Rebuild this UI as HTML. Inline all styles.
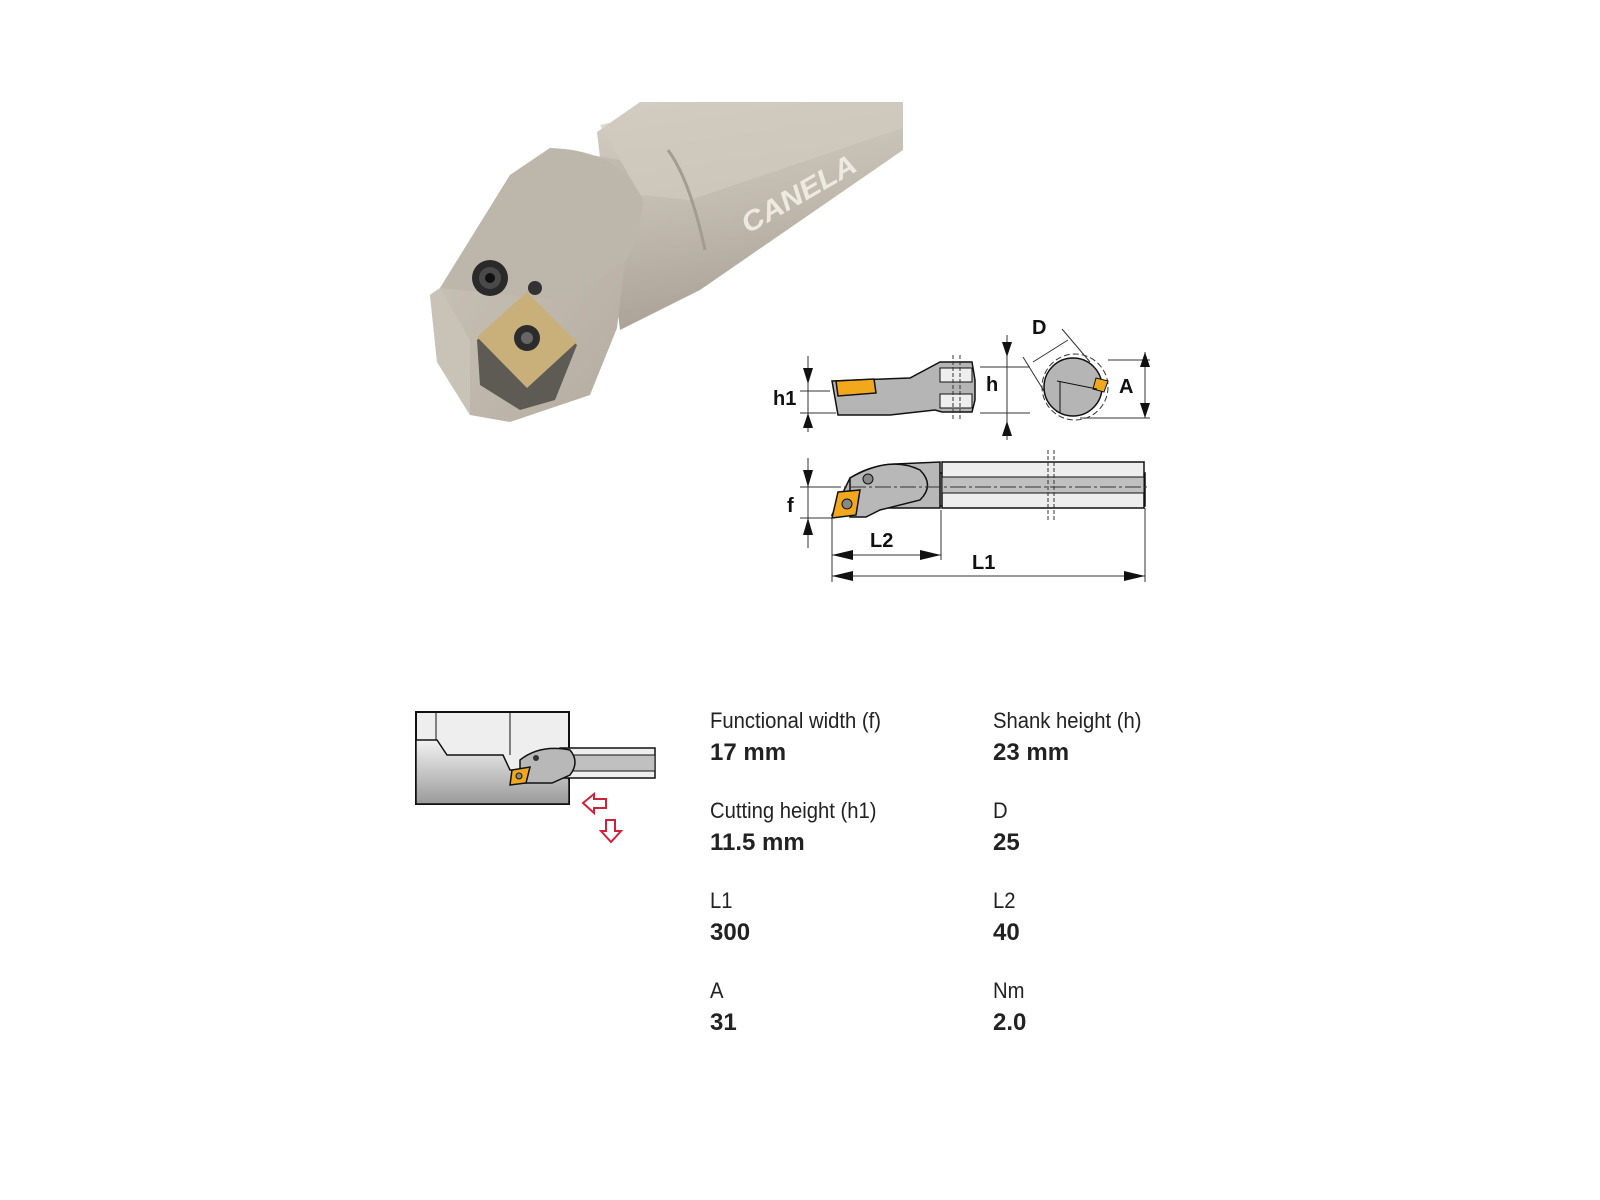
<!DOCTYPE html>
<html><head><meta charset="utf-8"><style>
body{margin:0;background:#fff;width:1600px;height:1200px;position:relative;overflow:hidden;font-family:"Liberation Sans",sans-serif}
.l{position:absolute;font-size:22px;color:#222;transform:scaleX(0.92);transform-origin:left}
.v{position:absolute;font-size:24px;font-weight:bold;color:#222}
</style></head><body>
<svg width="1600" height="1200" style="position:absolute;left:0;top:0">
<defs>
<linearGradient id="sh" x1="0" y1="0" x2="0.2" y2="1"><stop offset="0" stop-color="#d3cdc3"/><stop offset="0.5" stop-color="#c2bbb0"/><stop offset="1" stop-color="#aaa296"/></linearGradient>
<linearGradient id="fr" x1="0" y1="0" x2="1" y2="1"><stop offset="0" stop-color="#cdc6bb"/><stop offset="1" stop-color="#b3ab9f"/></linearGradient>
<linearGradient id="wp" x1="0" y1="0" x2="0" y2="1"><stop offset="0" stop-color="#f2f2f2"/><stop offset="1" stop-color="#9a9a9a"/></linearGradient>
</defs>
<!-- photo -->
<polygon points="640,102 903,102 903,150 700,290 620,330 597,132" fill="url(#sh)"/>
<polygon points="600,125 700,102 903,102 903,128 690,200 640,195" fill="#d0cabf" opacity="0.7"/>
<path d="M668,150 Q690,180 705,250" stroke="#a39c90" stroke-width="3" fill="none"/>
<polygon points="510,175 550,148 620,160 643,200 625,262 617,328 590,395 510,422 470,415 437,362 430,295 440,288" fill="url(#fr)"/>
<path d="M510,175 L550,148 Q620,150 643,200 Q640,240 625,262 L560,300 L440,288 Z" fill="#bdb6ab"/>
<polygon points="430,295 440,288 470,340 470,415 437,362" fill="#c9c2b7"/>
<circle cx="490" cy="278" r="18" fill="#2a2a2a"/><circle cx="490" cy="278" r="11" fill="#4a4a4a"/><circle cx="490" cy="278" r="5" fill="#111"/>
<circle cx="535" cy="288" r="7" fill="#333"/>
<polygon points="477,340 527,300 577,345 555,400 520,410 480,385" fill="#5e5b55"/>
<polygon points="477,337 527,292 577,342 527,388" fill="#c9b07a"/>
<circle cx="527" cy="338" r="13" fill="#2c2c2c"/><circle cx="527" cy="338" r="6" fill="#666"/>
<text x="748" y="234" font-family="Liberation Sans" font-weight="bold" font-style="italic" font-size="28" fill="#eeeae2" textLength="128" lengthAdjust="spacingAndGlyphs" transform="rotate(-30 748 234)">CANELA</text>
<!-- side view top -->
<g stroke="#111" stroke-width="1.5">
<polygon points="832,381 910,378 940,362 972,362 975,380 975,400 972,412 942,412 935,410 890,415 838,415" fill="#b5b5b5"/>
<rect x="940" y="368" width="32" height="14" fill="#eee" stroke-width="1"/><rect x="940" y="394" width="32" height="14" fill="#eee" stroke-width="1"/>
<polygon points="836,381 874,379 876,393 838,396" fill="#f2a81d"/>
</g>
<g stroke="#333" stroke-width="1" fill="none">
<line x1="953" y1="355" x2="953" y2="420" stroke-dasharray="4,2"/><line x1="960" y1="355" x2="960" y2="420" stroke-dasharray="4,2"/>
<line x1="808" y1="356" x2="808" y2="432"/><line x1="800" y1="391" x2="830" y2="391"/><line x1="800" y1="413" x2="836" y2="413"/>
<line x1="1007" y1="335" x2="1007" y2="440"/><line x1="980" y1="367" x2="1030" y2="367"/><line x1="980" y1="413" x2="1030" y2="413"/>
<line x1="1145" y1="352" x2="1145" y2="418"/><line x1="1108" y1="360" x2="1150" y2="360"/><line x1="1080" y1="418" x2="1150" y2="418"/>
<line x1="1023" y1="357" x2="1057" y2="412"/><line x1="1062" y1="329" x2="1090" y2="362"/><line x1="1033" y1="362" x2="1068" y2="340"/>
<circle cx="1075" cy="387" r="33" stroke-dasharray="6,3"/>
</g>
<circle cx="1073" cy="387" r="29" fill="#b5b5b5" stroke="#111" stroke-width="1.5"/>
<polygon points="1096,378 1108,381 1104,392 1093,389" fill="#f2a81d" stroke="#111"/>
<line x1="1057" y1="381" x2="1097" y2="389" stroke="#111"/><line x1="1060" y1="381" x2="1060" y2="413" stroke="#111"/>
<g fill="#111">
<polygon points="803,368 813,368 808,384"/><polygon points="803,428 813,428 808,413"/>
<polygon points="1002,342 1012,342 1007,357"/><polygon points="1002,436 1012,436 1007,421"/>
<polygon points="1140,367 1150,367 1145,352"/><polygon points="1140,403 1150,403 1145,418"/>
</g>
<text x="773" y="405" font-weight="bold" font-size="20" fill="#111">h1</text>
<text x="986" y="391" font-weight="bold" font-size="20" fill="#111">h</text>
<text x="1119" y="393" font-weight="bold" font-size="20" fill="#111">A</text>
<text x="1032" y="334" font-weight="bold" font-size="20" fill="#111">D</text>
<!-- main view -->
<g stroke="#111" stroke-width="1.5">
<rect x="880" y="473" width="265" height="33" fill="#c0c0c0"/>
<rect x="942" y="462" width="202" height="46" fill="#eee"/>
<rect x="942" y="477" width="202" height="16" fill="#c0c0c0" stroke-width="1"/>
<path d="M832,515 L850,478 Q870,465 895,464 L940,462 L940,508 L880,508 L866,515 Z" fill="#b8b8b8"/>
<path d="M850,478 Q890,455 920,470 Q935,485 920,500 L880,510 L866,517 L850,517 Z" fill="#b8b8b8"/>
<polygon points="838,492 860,490 856,515 832,518" fill="#f2a81d"/>
</g>
<circle cx="847" cy="504" r="5" fill="#888" stroke="#111"/><circle cx="868" cy="479" r="5" fill="#888" stroke="#111"/>
<g stroke="#333" stroke-width="1" fill="none">
<line x1="1048" y1="450" x2="1048" y2="522" stroke-dasharray="4,2"/><line x1="1054" y1="450" x2="1054" y2="522" stroke-dasharray="4,2"/>
<line x1="825" y1="487" x2="1150" y2="487" stroke-dasharray="16,3,3,3"/>
<line x1="808" y1="458" x2="808" y2="548"/><line x1="800" y1="487" x2="830" y2="487"/><line x1="800" y1="518" x2="832" y2="518"/>
<line x1="832" y1="518" x2="832" y2="582"/><line x1="941" y1="510" x2="941" y2="560"/><line x1="1145" y1="508" x2="1145" y2="582"/>
<line x1="832" y1="555" x2="941" y2="555"/><line x1="832" y1="576" x2="1145" y2="576"/>
</g>
<g fill="#111">
<polygon points="803,470 813,470 808,487"/><polygon points="803,535 813,535 808,518"/>
<polygon points="832,555 853,550 853,560"/><polygon points="941,555 920,550 920,560"/>
<polygon points="832,576 853,571 853,581"/><polygon points="1145,576 1124,571 1124,581"/>
</g>
<text x="787" y="512" font-weight="bold" font-size="20" fill="#111">f</text>
<text x="870" y="547" font-weight="bold" font-size="20" fill="#111">L2</text>
<text x="972" y="569" font-weight="bold" font-size="20" fill="#111">L1</text>
<!-- bottom-left small diagram -->
<g stroke="#111" stroke-width="1.5">
<rect x="416" y="712" width="153" height="92" fill="#eee" stroke-width="2"/>
<path d="M416,740 L437,740 L447,755 L503,755 L510,770 L565,770 L569,780 L569,804 L416,804 Z" fill="url(#wp)"/>
<line x1="436" y1="712" x2="436" y2="740" stroke-width="1"/><line x1="510" y1="712" x2="510" y2="755" stroke-width="1"/>
<rect x="560" y="748" width="95" height="30" fill="#eee"/>
<rect x="560" y="755" width="95" height="16" fill="#c0c0c0" stroke-width="1"/>
<path d="M520,760 Q540,744 570,750 Q580,762 570,775 L552,783 L520,783 Z" fill="#b8b8b8"/>
<polygon points="512,770 530,767 526,783 510,785" fill="#f2a81d"/>
</g>
<circle cx="519" cy="776" r="3" fill="#888" stroke="#111"/><circle cx="536" cy="758" r="3" fill="#333"/>
<g fill="none" stroke="#d0213a" stroke-width="2">
<polygon points="583,803 594,794 594,799 606,799 606,808 594,808 594,813"/>
<polygon points="611,842 601,831 606,831 606,820 615,820 615,831 621,831"/>
</g>
</svg>
<div class="l" style="left:710px;top:708px">Functional width (f)</div><div class="v" style="left:710px;top:739px">17 mm</div>
<div class="l" style="left:993px;top:708px">Shank height (h)</div><div class="v" style="left:993px;top:739px">23 mm</div>
<div class="l" style="left:710px;top:798px">Cutting height (h1)</div><div class="v" style="left:710px;top:829px">11.5 mm</div>
<div class="l" style="left:993px;top:798px">D</div><div class="v" style="left:993px;top:829px">25</div>
<div class="l" style="left:710px;top:888px">L1</div><div class="v" style="left:710px;top:919px">300</div>
<div class="l" style="left:993px;top:888px">L2</div><div class="v" style="left:993px;top:919px">40</div>
<div class="l" style="left:710px;top:978px">A</div><div class="v" style="left:710px;top:1009px">31</div>
<div class="l" style="left:993px;top:978px">Nm</div><div class="v" style="left:993px;top:1009px">2.0</div>
</body></html>
